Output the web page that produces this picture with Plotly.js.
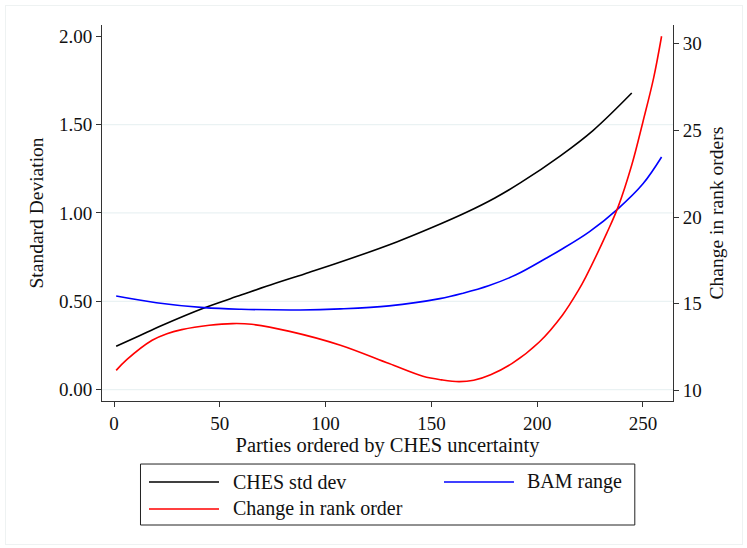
<!DOCTYPE html>
<html>
<head>
<meta charset="utf-8">
<script src="https://cdn.plot.ly/plotly-3.0.1.min.js"></script>
<style>
html,body{margin:0;padding:0;background:#fff;}
#frame{position:absolute;left:5px;top:5px;width:736px;height:538px;border:1px solid #eef2f2;}
#chart{position:absolute;left:0;top:0;width:747px;height:548px;}
</style>
</head>
<body>
<div id="frame"></div>
<div id="chart"></div>
<script>
// CHES std dev (left axis)
const chesX = [1, 12, 22, 42.5, 60, 72, 90, 107, 133.6, 150, 166.6, 180, 192, 210.8, 226.5, 244.7];
const chesY = [0.245, 0.305, 0.36, 0.462, 0.535, 0.585, 0.655, 0.722, 0.836, 0.916, 1.004, 1.085, 1.17, 1.322, 1.468, 1.679];

// BAM range (left axis)
const bamX = [1, 20, 42.5, 60, 88, 107, 130, 154, 165, 177, 190, 204, 210.8, 224.6, 238.3, 250, 258.8];
const bamY = [0.53, 0.492, 0.464, 0.455, 0.451, 0.457, 0.474, 0.515, 0.546, 0.588, 0.65, 0.742, 0.789, 0.893, 1.025, 1.165, 1.317];

// Change in rank order (right axis)
const rankX = [1, 6, 18, 25, 32, 45, 56, 65, 83, 107, 130, 146, 155, 163, 170, 178, 188, 201, 212, 219.4, 223, 233, 238.3, 244.7, 250, 255, 258.8];
const rankY = [11.15, 11.77, 12.89, 13.27, 13.5, 13.75, 13.85, 13.81, 13.4, 12.6, 11.54, 10.81, 10.6, 10.5, 10.58, 10.9, 11.54, 12.79, 14.35, 15.75, 16.55, 19.1, 20.6, 23.0, 25.5, 28.0, 30.43];

const xTicks = [0, 50, 100, 150, 200, 250];
const yTicks = [0, 0.5, 1.0, 1.5, 2.0];
const y2Ticks = [10, 15, 20, 25, 30];
const gridVals = [0, 0.5, 1.0, 1.5];

const FONT = 'Liberation Serif, Times New Roman, serif';
const TXT = '#111';
const colors = ['#000000', '#0000ff', '#ff0000'];
const names = ['CHES std dev', 'BAM range', 'Change in rank order'];

const traces = [
  {x: chesX, y: chesY, type: 'scatter', mode: 'lines', name: names[0], showlegend: false,
   line: {color: colors[0], width: 1.6, shape: 'spline', smoothing: 1}, yaxis: 'y'},
  {x: bamX, y: bamY, type: 'scatter', mode: 'lines', name: names[1], showlegend: false,
   line: {color: colors[1], width: 1.6, shape: 'spline', smoothing: 1}, yaxis: 'y'},
  {x: rankX, y: rankY, type: 'scatter', mode: 'lines', name: names[2], showlegend: false,
   line: {color: colors[2], width: 1.6, shape: 'spline', smoothing: 1}, yaxis: 'y2'}
];

const shapes = gridVals.map(v => ({
  type: 'line', xref: 'paper', x0: 0, x1: 1, yref: 'y', y0: v, y1: v,
  line: {color: '#eaf2f3', width: 1.2}, layer: 'below'
}));

// legend (drawn as shapes + annotations)
shapes.push({type: 'rect', xref: 'paper', yref: 'paper', x0: 0.0674, x1: 0.9331, y0: -0.3298, y1: -0.1676,
  line: {color: '#222', width: 1}, fillcolor: 'rgba(0,0,0,0)'});
const legPos = [
  {lx0: 0.0823, lx1: 0.2049, tx: 0.2259, y: -0.2154},
  {lx0: 0.5989, lx1: 0.7215, tx: 0.7408, y: -0.2154},
  {lx0: 0.0823, lx1: 0.2049, tx: 0.2259, y: -0.2872}
];
const annotations = [];
legPos.forEach((p, i) => {
  shapes.push({type: 'line', xref: 'paper', yref: 'paper', x0: p.lx0, x1: p.lx1, y0: p.y, y1: p.y,
    line: {color: colors[i], width: 1.6}});
  annotations.push({xref: 'paper', yref: 'paper', x: p.tx, y: p.y, xanchor: 'left', yanchor: 'middle',
    text: names[i], showarrow: false, font: {family: FONT, size: 20, color: TXT}});
});

const layout = {
  width: 747, height: 548,
  paper_bgcolor: 'rgba(0,0,0,0)', plot_bgcolor: '#ffffff',
  margin: {l: 102, r: 74, t: 25, b: 147},
  font: {family: FONT, size: 19, color: TXT},
  showlegend: false,
  xaxis: {
    range: [-5.7, 264.2], tickvals: xTicks, ticks: 'outside', ticklen: 5, tickcolor: '#333',
    showline: true, linecolor: '#333', linewidth: 1, showgrid: false, zeroline: false, automargin: false,
    tickfont: {family: FONT, size: 19, color: TXT},
    title: {text: 'Parties ordered by CHES uncertainty', standoff: 0, font: {family: FONT, size: 20.5, color: TXT}}
  },
  yaxis: {
    range: [-0.0645, 2.064], tickvals: yTicks, tickformat: '.2f', ticks: 'outside', ticklen: 5, tickcolor: '#333',
    showline: true, linecolor: '#333', linewidth: 1, showgrid: false, zeroline: false, automargin: false,
    tickfont: {family: FONT, size: 19, color: TXT},
    title: {text: 'Standard Deviation', standoff: 10, font: {family: FONT, size: 19.5, color: TXT}}
  },
  yaxis2: {
    overlaying: 'y', side: 'right', range: [9.383, 31.08], tickvals: y2Ticks, ticks: 'outside', ticklen: 5, tickcolor: '#333',
    showline: true, linecolor: '#333', linewidth: 1, showgrid: false, zeroline: false, automargin: false,
    tickfont: {family: FONT, size: 19, color: TXT},
    title: {text: 'Change in rank orders', standoff: 8, font: {family: FONT, size: 19.5, color: TXT}}
  },
  shapes: shapes,
  annotations: annotations
};

Plotly.newPlot('chart', traces, layout, {displayModeBar: false, staticPlot: true});
</script>
</body>
</html>
